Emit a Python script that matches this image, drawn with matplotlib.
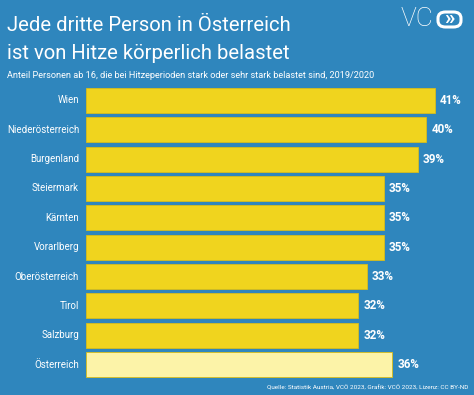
import matplotlib
matplotlib.use('Agg')
from matplotlib import pyplot as plt
from matplotlib.patches import FancyBboxPatch

# data
regions = ['Wien', 'Niederösterreich', 'Burgenland', 'Steiermark', 'Kärnten',
           'Vorarlberg', 'Oberösterreich', 'Tirol', 'Salzburg', 'Österreich']
shares = [41, 40, 39, 35, 35, 35, 33, 32, 32, 36]
title_lines = ['Jede dritte Person in Österreich', 'ist von Hitze körperlich belastet']
subtitle = 'Anteil Personen ab 16, die bei Hitzeperioden stark oder sehr stark belastet sind, 2019/2020'
source = 'Quelle: Statistik Austria, VCÖ 2023, Grafik: VCÖ 2023, Lizenz: CC BY-ND'

bg = '#2f86bd'
yellow = '#f0d41e'
light = '#fcf3a8'
plt.rcParams['font.family'] = ['Roboto', 'DejaVu Sans']

W, H = 474, 395
fig = plt.figure(figsize=(W/100, H/100), dpi=100)
fig.patch.set_facecolor(bg)
rend = fig.canvas.get_renderer()

def px(x, y):
	return x/W, 1-y/H

def fit(t, width):
	# shrink/grow a text until it spans the wanted pixel width
	w = t.get_window_extent(renderer=rend).width
	t.set_fontsize(t.get_fontsize()*width/w)
	return t.get_fontsize()

top, bot = 85.8, 379.2
ax = fig.add_axes([86/W, 1-bot/H, (W-86)/W, (bot-top)/H])
ax.set_facecolor(bg)
cols = [yellow]*(len(regions)-1) + [light]
ypos = list(range(len(regions)))
ax.barh(ypos, shares, height=0.85, color=cols, edgecolor='#d8bd1a', linewidth=0.6)
ax.set_xlim(0, (W-86)/8.51)
ax.set_ylim(len(regions)-0.5, -0.5)
ax.set_xticks([])
ax.set_yticks([])
for s in ax.spines.values():
	s.set_visible(False)

probe = fig.text(0, 0, 'Niederösterreich', fontsize=10)
lab_fs = fit(probe, 72)
probe.remove()
for y, name in zip(ypos, regions):
	ax.annotate(name, (0, y), xytext=(-7, 0), textcoords='offset pixels',
		color='white', fontsize=lab_fs, va='center', ha='right')

probe = fig.text(0, 0, '41%', fontsize=10, fontweight='bold')
val_fs = fit(probe, 22)
probe.remove()
for y, v in zip(ypos, shares):
	ax.annotate(f'{v}%', (v, y), xytext=(5, 0), textcoords='offset pixels',
		color='white', fontsize=val_fs, fontweight='bold', va='center', ha='left')

t1 = fig.text(*px(7, 31), title_lines[0], color='white', fontsize=20,
	va='baseline', ha='left')
fit(t1, 283)
t2 = fig.text(*px(7, 59), title_lines[1], color='white', fontsize=t1.get_fontsize(),
	va='baseline', ha='left')
st = fig.text(*px(7, 76), subtitle, color='white', fontsize=8, va='center', ha='left')
fit(st, 369)
sc = fig.text(*px(468, 388), source, color='white', fontsize=6, va='center', ha='right')
fit(sc, 203)

# logo
vc = fig.text(*px(401, 19), 'VC', color='white', fontsize=16, fontweight='light',
	va='center', ha='left')
fit(vc, 33)
box = FancyBboxPatch(px(438, 27), 23/W, 15/H, boxstyle='round,pad=0,rounding_size=0.016',
	transform=fig.transFigure, facecolor='none', edgecolor='white', linewidth=2.2)
fig.patches.append(box)
fig.text(*px(449.5, 18.5), '»', color='white', fontsize=15, fontweight='bold',
	va='center', ha='center')

plt.savefig('out.png', dpi=100, facecolor=bg)
